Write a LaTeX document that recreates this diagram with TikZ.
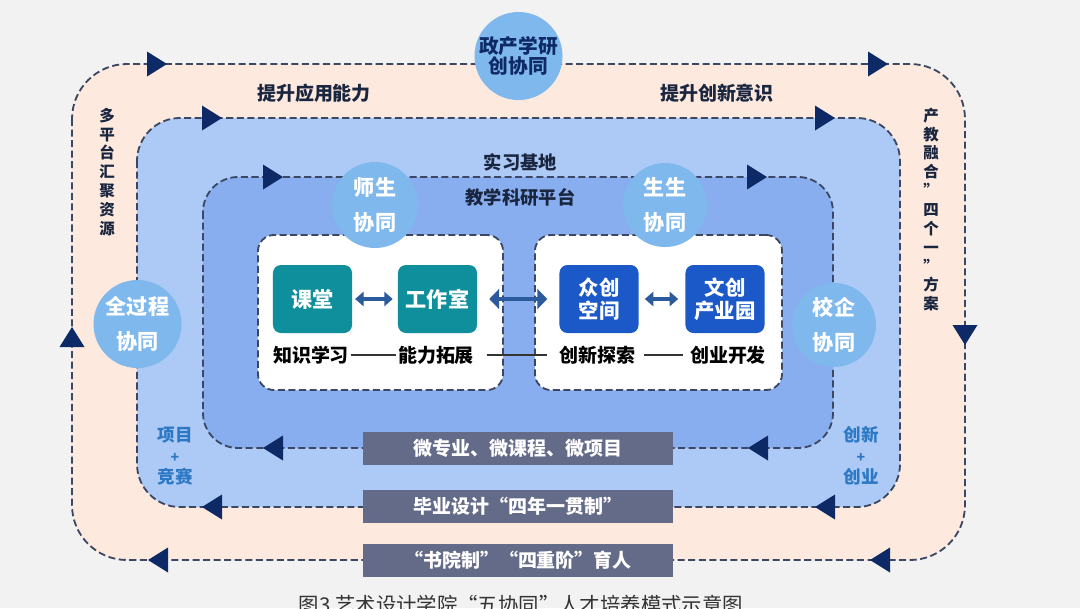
\documentclass[tikz,border=0pt]{standalone}
\usepackage{fontspec}
\setmainfont{Noto Sans CJK SC}
\usetikzlibrary{arrows.meta}
\definecolor{bgc}{HTML}{F2F2F2}
\definecolor{peach}{HTML}{FDE9DD}
\definecolor{midblue}{HTML}{ADCAF6}
\definecolor{innblue}{HTML}{88AEEF}
\definecolor{circc}{HTML}{7FB8EC}
\definecolor{navy}{HTML}{0E2A66}
\definecolor{dashc}{HTML}{3B4763}
\definecolor{tealc}{HTML}{0F8E9B}
\definecolor{boxblue}{HTML}{1B58C8}
\definecolor{barc}{HTML}{646B88}
\definecolor{darkt}{HTML}{1A2640}
\definecolor{sidet}{HTML}{2C78C4}
\definecolor{arrc}{HTML}{2B5B9C}
\definecolor{capc}{HTML}{333333}
\newcommand\trR[2]{\fill[tri] (#1,#2) -- ++(-20,-12.5) -- ++(0,25) -- cycle;}
\newcommand\trL[2]{\fill[tri] (#1,#2) -- ++(20,-12.5) -- ++(0,25) -- cycle;}
\newcommand\trU[2]{\fill[tri] (#1,#2) -- ++(-12.5,20) -- ++(25,0) -- cycle;}
\newcommand\trD[2]{\fill[tri] (#1,#2) -- ++(-12.5,-20) -- ++(25,0) -- cycle;}
\begin{document}
\begin{tikzpicture}[x=0.025cm,y=-0.025cm,
  loopline/.style={draw=dashc,line width=1.3pt,dash pattern=on 5pt off 2.5pt},
  tri/.style={fill=navy},
  circ/.style={circle,fill=circc,inner sep=0pt,text=white,align=center,
    font=\bfseries\fontsize{15}{25}\selectfont},
  whitebox/.style={draw=dashc,line width=1.3pt,dash pattern=on 5pt off 2.5pt,fill=white,rounded corners=0.4cm,minimum height=3.875cm},
  cbox/.style={rounded corners=0.2cm,minimum width=1.975cm,minimum height=1.7cm,text=white,align=center,
    font=\bfseries\fontsize{15}{16.5}\selectfont},
  bar/.style={fill=barc,minimum width=7.75cm,minimum height=0.825cm,text=white,inner sep=0pt,
    font=\bfseries\fontsize{13.5}{15}\selectfont},
  head/.style={text=darkt,font=\bfseries\fontsize{13.5}{15}\selectfont},
  vert/.style={text=darkt,align=center,font=\bfseries\fontsize{11}{13.4}\selectfont},
  lab/.style={text=black,inner sep=1pt,font=\bfseries\fontsize{13.5}{15}\selectfont},
  side/.style={text=sidet,align=center,font=\bfseries\fontsize{12.5}{15}\selectfont},
  dbl/.style={draw=arrc,line width=2.5pt,{Triangle[length=6pt,width=10pt]}-{Triangle[length=6pt,width=10pt]}},
  dblbig/.style={draw=arrc,line width=3.5pt,{Triangle[length=7pt,width=14pt]}-{Triangle[length=7pt,width=14pt]}},
  thinl/.style={draw=black!80,line width=0.8pt}]
\useasboundingbox (0,0) rectangle (1080,608);
\fill[bgc] (0,0) rectangle (1080,608);
% loops
\path[fill=peach,loopline,rounded corners=1.375cm] (72,64) rectangle (965,560);
\path[fill=midblue,loopline,rounded corners=1.075cm] (137,118) rectangle (900,507);
\path[fill=innblue,loopline,rounded corners=0.875cm] (203,177) rectangle (833,448);
% triangles on loops
\trR{167}{64} \trR{888}{64}
\trR{222}{118} \trR{835}{118}
\trR{283}{177} \trR{767}{177}
\trL{148}{560} \trL{870}{560}
\trL{202}{507} \trL{815}{507}
\trL{263}{448} \trL{748}{448}
\trU{72}{327} \trD{965}{345}
% white boxes
\node[whitebox,minimum width=6.125cm] (wl) at (380.5,312.5) {};
\node[whitebox,minimum width=6.175cm] (wr) at (658.5,312.5) {};
% coloured boxes
\node[cbox,fill=tealc] (kt) at (312.5,299) {课堂};
\node[cbox,fill=tealc] (gzs) at (437.5,299) {工作室};
\node[cbox,fill=boxblue,font=\bfseries\fontsize{14.5}{16.5}\selectfont] (zc) at (599,299) {众创\\空间};
\node[cbox,fill=boxblue,font=\bfseries\fontsize{14.5}{16.5}\selectfont] (wc) at (725,299) {文创\\产业园};
\draw[dbl,shorten <=2pt,shorten >=3.5pt] (kt) -- (gzs);
\draw[dblbig,shorten <=8.5pt,shorten >=8.5pt] (gzs) -- (zc);
\draw[dbl,shorten <=4.3pt,shorten >=5pt] (zc) -- (wc);
% labels under boxes
\node[lab] (l1) at (311,355) {知识学习};
\node[lab] (l2) at (436,355) {能力拓展};
\node[lab] (l3) at (597.5,355) {创新探索};
\node[lab] (l4) at (728,355) {创业开发};
\draw[thinl] (l1) -- (l2);
\draw[thinl,shorten <=8pt,shorten >=8pt] (l2) -- (l3);
\draw[thinl,shorten <=5pt,shorten >=4pt] (l3) -- (l4);
% bars
\node[bar] (b1) at (518,448.5) {微专业、微课程、微项目};
\node[bar] (b2) at (518,506.5) {毕业设计“四年一贯制”};
\node[bar] (b3) at (518,560) {“书院制”“四重阶”育人};
% circles
\node[circ,minimum size=2.2cm,text=navy,font=\bfseries\fontsize{14}{14.5}\selectfont] (zcx) at (518.5,56) {政产学研\\创协同};
\node[circ,minimum size=2.2cm] (qgc) at (137.5,324) {全过程\\协同};
\node[circ,minimum size=2.1cm] (xq) at (834,325) {校企\\协同};
\node[circ,minimum size=2.15cm] (ss) at (375,205) {师生\\协同};
\node[circ,minimum size=2.1cm] (sss) at (665,205) {生生\\协同};
% headings
\node[head] (h1) at (314,93) {提升应用能力};
\node[head] (h2) at (717,93) {提升创新意识};
\node[head,font=\bfseries\fontsize{13}{15}\selectfont] (h3) at (520.5,162) {实习基地};
\node[head,font=\bfseries\fontsize{13}{15}\selectfont] (h4) at (520.5,197) {教学科研平台};
\node[vert,anchor=north] (v1) at (107,103) {多\\平\\台\\汇\\聚\\资\\源};
\node[vert,anchor=north] (v2) at (931,103) {产\\教\\融\\合\\”\\四\\个\\一\\”\\方\\案};
\node[side] (s1) at (175,456) {项目\\{\fontsize{10}{12}\selectfont +}\\竞赛};
\node[side] (s2) at (861,456) {创新\\{\fontsize{10}{12}\selectfont +}\\创业};
% caption
\node[anchor=base,text=capc,font=\fontsize{14.5}{16}\selectfont] (cap) at (521,612) {图3 艺术设计学院“五协同”人才培养模式示意图};
\end{tikzpicture}
\end{document}
